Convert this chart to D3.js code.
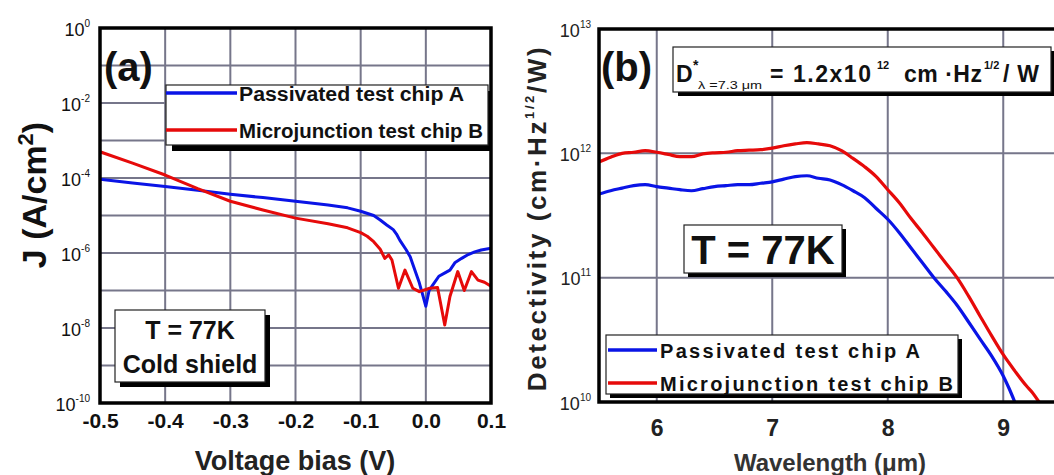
<!DOCTYPE html>
<html><head><meta charset="utf-8">
<script src="https://cdn.jsdelivr.net/npm/d3@7"></script>
<style>
body{margin:0;background:#fff;}
svg{display:block;font-family:"Liberation Sans",Arial,sans-serif;}
</style></head>
<body>
<script>
// ---------- Panel (a) data: J–V at 77 K ----------
const voltsA = [-0.5,-0.45,-0.4,-0.35,-0.3,-0.25,-0.2,-0.15,-0.12,-0.1,-0.08,-0.07,-0.06,-0.05,-0.045,-0.04,-0.03,-0.024,-0.02,-0.01,-0.005,0.0,0.005,0.01,0.02,0.03,0.037,0.045,0.055,0.065,0.075,0.085,0.1];
const jChipA = [9.3e-5,7.4e-5,5.9e-5,4.7e-5,3.7e-5,3.0e-5,2.4e-5,1.9e-5,1.6e-5,1.3e-5,1.0e-5,7.6e-6,5.6e-6,4.2e-6,3.2e-6,2.2e-6,1.2e-6,7.9e-7,5.0e-7,1.6e-7,7.9e-8,3.8e-8,1.0e-7,1.35e-7,2.4e-7,3.0e-7,3.5e-7,5.6e-7,7.2e-7,9.1e-7,1.07e-6,1.2e-6,1.35e-6];
const voltsB = [-0.5,-0.45,-0.4,-0.35,-0.3,-0.25,-0.2,-0.15,-0.12,-0.1,-0.09,-0.08,-0.07,-0.063,-0.057,-0.052,-0.042,-0.032,-0.02,-0.01,0.006,0.018,0.029,0.037,0.049,0.059,0.07,0.08,0.09,0.1];
const jChipB = [5.0e-4,2.5e-4,1.2e-4,5.2e-5,2.4e-5,1.4e-5,8.5e-6,6.0e-6,4.7e-6,3.5e-6,2.8e-6,2.0e-6,1.26e-6,7.2e-7,8.9e-7,6.5e-7,1.15e-7,3.5e-7,1.15e-7,9.3e-8,1.15e-7,1.2e-7,1.2e-8,6.9e-8,3.2e-7,1.0e-7,3.2e-7,1.9e-7,1.66e-7,1.3e-7];
const voltTicks = [-0.5,-0.4,-0.3,-0.2,-0.1,0.0,0.1];
const voltLabels = ["-0.5","-0.4","-0.3","-0.2","-0.1","0.0","0.1"];
const jGrid = [1e-9,1e-8,1e-7,1e-6,1e-5,1e-4,1e-3,1e-2,1e-1];
const jLabelExp = [0,-2,-4,-6,-8,-10];

// ---------- Panel (b) data: detectivity spectra ----------
const wlA = [5.5,5.6,5.7,5.8,5.9,6.0,6.1,6.2,6.3,6.4,6.5,6.6,6.7,6.8,6.9,7.0,7.1,7.2,7.3,7.4,7.5,7.6,7.7,7.8,7.9,8.0,8.1,8.2,8.3,8.4,8.5,8.6,8.7,8.8,8.9,9.0,9.05,9.1];
const detA = [4.7e11,5.0e11,5.25e11,5.5e11,5.6e11,5.4e11,5.25e11,5.1e11,5.0e11,5.2e11,5.4e11,5.5e11,5.6e11,5.6e11,5.75e11,5.9e11,6.2e11,6.5e11,6.6e11,6.3e11,6.1e11,5.6e11,5.0e11,4.4e11,3.6e11,2.95e11,2.3e11,1.74e11,1.32e11,1.0e11,7.8e10,6.0e10,4.4e10,3.2e10,2.34e10,1.62e10,1.29e10,1.0e10];
const wlB = [5.5,5.6,5.7,5.8,5.9,6.0,6.1,6.2,6.3,6.4,6.5,6.6,6.7,6.8,6.9,7.0,7.1,7.2,7.3,7.4,7.5,7.6,7.7,7.8,7.9,8.0,8.1,8.2,8.3,8.4,8.5,8.6,8.7,8.8,8.9,9.0,9.1,9.2,9.25,9.31];
const detB = [8.5e11,9.3e11,1.0e12,1.02e12,1.05e12,1.02e12,9.8e11,9.4e11,9.4e11,9.9e11,1.01e12,1.02e12,1.05e12,1.06e12,1.07e12,1.1e12,1.15e12,1.19e12,1.22e12,1.19e12,1.15e12,1.05e12,9.1e11,7.8e11,6.5e11,5.1e11,4.0e11,3.0e11,2.3e11,1.74e11,1.32e11,1.0e11,7.1e10,4.9e10,3.4e10,2.4e10,1.78e10,1.35e10,1.2e10,1.0e10];
const wlTicks = [6,7,8,9];
const dGrid = [1e11,1e12];
const dLabelExp = [10,11,12,13];

const seriesNames = ["Passivated test chip A","Microjunction test chip B"];
const seriesColors = ["#0a14e6","#e60a0a"];

// ---------- Setup ----------
const W = 1054, H = 475;
const svg = d3.select("body").append("svg").attr("width",W).attr("height",H);
const FONT = '"Liberation Sans",Arial,sans-serif';
const gridColor = "#76768a";

function drawGrid(parent, xs, ys, xVals, yVals){
  const xr = xs.range(), yr = ys.range();
  const p = d3.path();
  xVals.forEach(v=>{ p.moveTo(xs(v),yr[0]); p.lineTo(xs(v),yr[1]); });
  yVals.forEach(v=>{ p.moveTo(xr[0],ys(v)); p.lineTo(xr[1],ys(v)); });
  return parent.append("path").attr("d",p.toString()).attr("fill","none")
    .style("stroke",gridColor).style("stroke-width","2px").style("opacity",1);
}

// ===== Panel (a) =====
const aL=100,aR=491,aT=28,aB=403;
const xA = d3.scaleLinear().domain([-0.5,0.1]).range([aL,aR]);
const yA = d3.scaleLog().domain([1e-10,1]).range([aB,aT]);
const gA = svg.append("g");

gA.append("g").attr("transform",`translate(0,${aB})`)
  .call(d3.axisBottom(xA).tickValues(voltTicks).tickSize(0).tickPadding(0).tickFormat((d,i)=>voltLabels[i]))
  .call(g=>{g.select(".domain").remove();
    g.selectAll("text").attr("font-family",FONT).attr("font-size",21).attr("font-weight","bold")
     .attr("fill","#111").attr("dy",null).attr("y",25);});

gA.append("g").attr("transform",`translate(${aL},0)`)
  .call(d3.axisLeft(yA).tickValues(jLabelExp.map(e=>Math.pow(10,e))).tickSize(0).tickPadding(10).tickFormat(""))
  .call(g=>{g.select(".domain").remove();
    g.selectAll(".tick text").each(function(d,i){
      const t=d3.select(this).attr("font-family",FONT).attr("fill","#111").attr("dy",null).attr("y",7);
      t.append("tspan").attr("font-size",18).text("10");
      t.append("tspan").attr("font-size",10).attr("dy",-9).text(String(jLabelExp[i]));
    });});

svg.append("defs").append("clipPath").attr("id","clipA").append("rect").attr("x",aL).attr("y",aT).attr("width",aR-aL).attr("height",aB-aT);
drawGrid(gA, xA, yA, voltTicks.slice(1,-1), jGrid);
const lineA = d3.line().x(d=>xA(d[0])).y(d=>yA(d[1]));
gA.append("path").attr("clip-path","url(#clipA)").attr("d",lineA(d3.zip(voltsA,jChipA)))
  .attr("fill","none").attr("stroke",seriesColors[0]).attr("stroke-width",3).attr("stroke-linejoin","round");
gA.append("path").attr("clip-path","url(#clipA)").attr("d",lineA(d3.zip(voltsB,jChipB)))
  .attr("fill","none").attr("stroke",seriesColors[1]).attr("stroke-width",3).attr("stroke-linejoin","round");

gA.append("rect").attr("x",aL).attr("y",aT).attr("width",aR-aL).attr("height",aB-aT)
  .attr("fill","none").attr("stroke","#000").attr("stroke-width",3.5);

gA.append("text").attr("x",104).attr("y",81).attr("font-size",40).attr("font-weight","bold").attr("fill","#111").text("(a)");

gA.append("rect").attr("x",172).attr("y",91).attr("width",319).attr("height",60).attr("fill","#000");
gA.append("rect").attr("x",166).attr("y",85).attr("width",322).attr("height",60).attr("fill","#fff").attr("stroke","#222").attr("stroke-width",1.2);
[93,130].forEach((yy,i)=>{
  gA.append("line").attr("x1",166).attr("x2",237).attr("y1",yy).attr("y2",yy).attr("stroke",seriesColors[i]).attr("stroke-width",3.5);
  gA.append("text").attr("x",239).attr("y",yy+8).attr("font-size",20).attr("font-weight","bold")
    .attr("textLength",i===0?225:244).attr("lengthAdjust","spacingAndGlyphs").attr("fill","#111").text(seriesNames[i]);
});

gA.append("rect").attr("x",120).attr("y",315).attr("width",150).attr("height",72).attr("fill","#000");
gA.append("rect").attr("x",115).attr("y",310).attr("width",150).attr("height",72).attr("fill","#fff").attr("stroke","#222").attr("stroke-width",1.2);
gA.append("text").attr("x",190).attr("y",339).attr("text-anchor","middle").attr("font-size",25).attr("font-weight","bold").attr("fill","#111").text("T = 77K");
gA.append("text").attr("x",190).attr("y",373).attr("text-anchor","middle").attr("font-size",25).attr("font-weight","bold").attr("fill","#111").text("Cold shield");

gA.append("text").attr("x",295).attr("y",470).attr("text-anchor","middle").attr("font-size",27).attr("font-weight","bold").attr("fill","#222").text("Voltage bias (V)");
const ja = gA.append("text").attr("transform","translate(46,195) rotate(-90)").attr("text-anchor","middle").attr("font-size",34).attr("font-weight","bold").attr("fill","#111");
ja.append("tspan").text("J (A/cm");
ja.append("tspan").attr("font-size",22).attr("dy",-13).text("2");
ja.append("tspan").attr("dy",13).text(")");

// ===== Panel (b) =====
const bL=599,bT=29,bB=402, perUm=115.5;
const bR = bL + perUm*4.5;
const xB = d3.scaleLinear().domain([5.5,10]).range([bL,bR]);
const yB = d3.scaleLog().domain([1e10,1e13]).range([bB,bT]);
const gB = svg.append("g");

gB.append("g").attr("transform",`translate(0,${bB})`)
  .call(d3.axisBottom(xB).tickValues(wlTicks).tickSize(0).tickPadding(0).tickFormat(d3.format("d")))
  .call(g=>{g.select(".domain").remove();
    g.selectAll("text").attr("font-family",FONT).attr("font-size",23).attr("font-weight","bold")
     .attr("fill","#222").attr("dy",null).attr("y",34);});

gB.append("g").attr("transform",`translate(${bL},0)`)
  .call(d3.axisLeft(yB).tickValues(dLabelExp.map(e=>Math.pow(10,e))).tickSize(0).tickPadding(8).tickFormat(""))
  .call(g=>{g.select(".domain").remove();
    g.selectAll(".tick text").each(function(d,i){
      const t=d3.select(this).attr("font-family",FONT).attr("fill","#222").attr("dy",null).attr("y",7);
      t.append("tspan").attr("font-size",18).text("10");
      t.append("tspan").attr("font-size",10).attr("dy",-9).text(String(dLabelExp[i]));
    });});

svg.select("defs").append("clipPath").attr("id","clipB").append("rect").attr("x",bL).attr("y",bT).attr("width",bR-bL).attr("height",bB-bT);
drawGrid(gB, xB, yB, wlTicks, dGrid);
const lineB = d3.line().x(d=>xB(d[0])).y(d=>yB(d[1])).curve(d3.curveMonotoneX);
gB.append("path").attr("clip-path","url(#clipB)").attr("d",lineB(d3.zip(wlA,detA)))
  .attr("fill","none").attr("stroke",seriesColors[0]).attr("stroke-width",3.2);
gB.append("path").attr("clip-path","url(#clipB)").attr("d",lineB(d3.zip(wlB,detB)))
  .attr("fill","none").attr("stroke",seriesColors[1]).attr("stroke-width",3.2);

gB.append("rect").attr("x",bL).attr("y",bT).attr("width",bR-bL).attr("height",bB-bT)
  .attr("fill","none").attr("stroke","#000").attr("stroke-width",3.5);

gB.append("text").attr("x",601).attr("y",81).attr("font-size",40).attr("font-weight","bold").attr("fill","#111").text("(b)");

gB.append("rect").attr("x",678).attr("y",51).attr("width",380).attr("height",45).attr("fill","#000");
gB.append("rect").attr("x",673).attr("y",47).attr("width",378).attr("height",45).attr("fill","#fff").attr("stroke","#222").attr("stroke-width",1.2);
const dtxt = (x,y,s,size,w)=>gB.append("text").attr("x",x).attr("y",y).attr("font-size",size).attr("font-weight",w||"bold").attr("fill","#111").text(s);
dtxt(676,82,"D",23);
dtxt(693,70,"*",14);
dtxt(698,89,"λ =7.3 μm",11,"normal").attr("textLength",64).attr("lengthAdjust","spacingAndGlyphs");
dtxt(770,82,"= 1.2x10",23).attr("textLength",101).attr("lengthAdjust","spacing");
dtxt(877,69,"12",11);
dtxt(904,82,"cm ·Hz",23).attr("textLength",78).attr("lengthAdjust","spacing");
dtxt(984,69,"1/2",11);
dtxt(1003,82,"/W",23).attr("textLength",36).attr("lengthAdjust","spacing");

gB.append("rect").attr("x",688).attr("y",229).attr("width",158).attr("height",48).attr("fill","#000");
gB.append("rect").attr("x",684).attr("y",225).attr("width",158).attr("height",48).attr("fill","#fff").attr("stroke","#222").attr("stroke-width",1.2);
gB.append("text").attr("x",763).attr("y",264).attr("text-anchor","middle").attr("font-size",40).attr("font-weight","bold").attr("fill","#111").text("T = 77K");

gB.append("rect").attr("x",610).attr("y",339).attr("width",352).attr("height",59).attr("fill","#000");
gB.append("rect").attr("x",606).attr("y",335).attr("width",352).attr("height",59).attr("fill","#fff").attr("stroke","#222").attr("stroke-width",1.2);
[350,383].forEach((yy,i)=>{
  gB.append("line").attr("x1",608).attr("x2",657).attr("y1",yy).attr("y2",yy).attr("stroke",seriesColors[i]).attr("stroke-width",3.5);
  gB.append("text").attr("x",660).attr("y",yy+8).attr("font-size",20).attr("font-weight","bold")
    .attr("textLength",i===0?260:293).attr("lengthAdjust","spacing").attr("fill","#111").text(seriesNames[i]);
});

gB.append("text").attr("x",830).attr("y",471).attr("text-anchor","middle").attr("font-size",24).attr("font-weight","bold")
  .attr("textLength",192).attr("lengthAdjust","spacing").attr("fill","#333").text("Wavelength (μm)");
const db = gB.append("text").attr("transform","translate(546,218) rotate(-90)").attr("text-anchor","middle")
  .attr("font-size",26).attr("font-weight","bold").attr("letter-spacing",2.6).attr("fill","#222");
db.append("tspan").text("Detectivity (cm·Hz");
db.append("tspan").attr("font-size",13).attr("dy",-12).text("1/2");
db.append("tspan").attr("dy",12).text("/W)");
</script>
</body></html>
